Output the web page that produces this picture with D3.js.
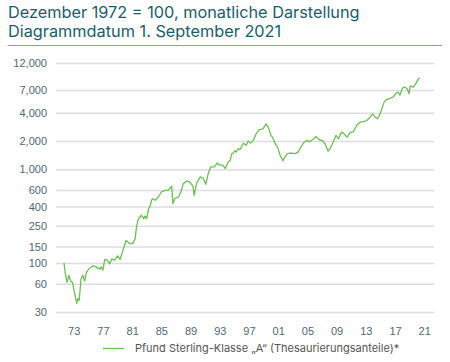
<!DOCTYPE html>
<html>
<head>
<meta charset="utf-8">
<script src="https://cdn.jsdelivr.net/npm/d3@7"></script>
<style>
  body { margin: 0; background: #fff; }
  svg { display: block; font-family: Inter, "Noto Sans", sans-serif; }
</style>
</head>
<body>
<div id="chart"></div>
<script>
// Index, December 1972 = 100
const months = [
  "1972-12", "1973-02", "1973-05", "1973-08", "1973-11", "1974-02", "1974-05", "1974-09", "1974-11",
  "1975-01", "1975-04", "1975-07", "1975-10", "1976-01", "1976-06", "1976-12", "1977-05", "1977-11",
  "1978-01", "1978-04", "1978-07", "1978-11", "1979-03", "1979-07", "1979-11", "1980-04", "1980-08",
  "1981-01", "1981-06", "1981-12", "1982-05", "1982-09", "1982-11", "1983-02", "1983-07", "1983-11",
  "1984-01", "1984-04", "1984-07", "1984-09", "1984-12", "1985-02", "1985-06", "1985-11", "1986-04",
  "1986-10", "1987-03", "1987-09", "1987-11", "1988-02", "1988-08", "1988-12", "1989-04", "1989-10",
  "1990-03", "1990-08", "1990-10", "1991-02", "1991-08", "1992-01", "1992-05", "1992-09", "1993-01",
  "1993-07", "1993-12", "1994-04", "1994-09", "1995-01", "1995-06", "1995-09", "1995-12", "1996-02",
  "1996-05", "1996-07", "1996-10", "1997-01", "1997-07", "1997-11", "1998-03", "1998-07", "1998-11",
  "1999-04", "1999-09", "2000-03", "2000-08", "2000-12", "2001-04", "2001-07", "2001-11", "2002-03",
  "2002-07", "2002-12", "2003-03", "2003-07", "2004-02", "2004-08", "2005-01", "2005-05", "2005-11",
  "2006-04", "2006-08", "2007-02", "2007-06", "2007-10", "2008-01", "2008-04", "2008-09", "2009-02",
  "2009-05", "2009-10", "2010-03", "2010-07", "2010-12", "2011-04", "2011-09", "2012-02", "2012-08",
  "2013-01", "2013-07", "2013-12", "2014-06", "2014-11", "2015-03", "2015-07", "2015-11", "2016-03",
  "2016-10", "2017-02", "2017-08", "2018-01", "2018-05", "2018-09", "2018-12", "2019-04", "2019-08",
  "2019-12", "2020-03", "2020-05", "2020-10", "2021-02", "2021-06", "2021-09"
];
const values = [
  100, 78, 62, 74, 64, 62, 49, 37, 42,
  40, 68, 74, 64, 80, 88, 93, 91, 86,
  91, 84, 109, 107, 98, 111, 107, 119, 109,
  137, 174, 161, 161, 182, 240, 292, 323, 297,
  318, 297, 380, 396, 470, 485, 467, 506, 572,
  596, 596, 658, 430, 485, 506, 572, 703, 750,
  730, 658, 525, 714, 828, 795, 690, 899, 1059,
  1059, 1166, 1105, 1105, 1018, 1195, 1250, 1470, 1490,
  1580, 1530, 1650, 1620, 1900, 1800, 2000, 1900, 2030,
  2400, 2650, 2700, 3050, 2780, 2300, 2170, 1880, 1720,
  1420, 1230, 1350, 1470, 1490, 1470, 1530, 1720, 1960,
  2030, 1960, 2110, 2240, 2110, 2030, 2050, 1860, 1560,
  1650, 1920, 2300, 2110, 2490, 2400, 2200, 2450, 2540,
  2950, 3200, 3200, 3330, 3600, 3900, 3600, 3460, 3820,
  5200, 5550, 5700, 5900, 6400, 6670, 6160, 7340, 7530,
  7230, 6400, 7750, 7530, 8200, 9100, 9500
];

// axis ticks; the top gridline of the source sits a little above 12,000
const yTickValues = [30, 60, 100, 150, 250, 400, 600, 1000, 2000, 4000, 7000, 13600];
const yTickLabels = ["30", "60", "100", "150", "250", "400", "600", "1,000", "2,000", "4,000", "7,000", "12,000"];
const xTickYears = [1973, 1977, 1981, 1985, 1989, 1993, 1997, 2001, 2005, 2009, 2013, 2017, 2021];

const titleLines = ["Dezember 1972 = 100, monatliche Darstellung", "Diagrammdatum 1. September 2021"];
const seriesName = "Pfund Sterling-Klasse \u201EA\u201C (Thesaurierungsanteile)*";

const width = 450, height = 362;
const green = "#6cbf55";
const textColor = "#506874";

const parse = d3.timeParse("%Y-%m");
const data = months.map((m, i) => ({ date: parse(m), value: values[i] }));

const svg = d3.select("#chart").append("svg")
  .attr("width", width)
  .attr("height", height);

// title
svg.append("g")
  .selectAll("text")
  .data(titleLines)
  .join("text")
  .attr("x", 8)
  .attr("y", (d, i) => 18 + i * 19)
  .attr("fill", "#1c5d6c")
  .style("font-size", "16.3px")
  .text((d) => d);

// thin green rule under the title
svg.append("line")
  .attr("x1", 8).attr("x2", 442)
  .attr("y1", 45.5).attr("y2", 45.5)
  .attr("stroke", green)
  .attr("stroke-width", 1);

const x = d3.scaleTime()
  .domain(d3.extent(data, (d) => d.date))
  .range([64, 420]);

const y = d3.scaleLog()
  .domain([30, 13600])
  .range([312, 63]);

// gridlines + y labels
const yAxis = svg.append("g")
  .attr("transform", "translate(56,0)")
  .call(d3.axisLeft(y)
    .tickValues(yTickValues)
    .tickFormat((d, i) => yTickLabels[i])
    .tickSize(-378)
    .tickPadding(9));
yAxis.select(".domain").remove();
yAxis.selectAll(".tick line")
  .attr("stroke", "#dcdce2")
  .attr("stroke-width", 1.5);
yAxis.selectAll(".tick text")
  .attr("fill", textColor)
  .style("font-size", "11px");

// x labels (placed under the middle of each labelled year's span)
const xAxis = svg.append("g")
  .attr("transform", "translate(0,320)")
  .call(d3.axisBottom(x)
    .tickValues(xTickYears.map((yr) => new Date(yr + 1, 3, 1)))
    .tickFormat((d) => d3.format("02d")((d.getFullYear() - 1) % 100))
    .tickSize(0)
    .tickPadding(7));
xAxis.select(".domain").remove();
xAxis.selectAll(".tick text")
  .attr("fill", textColor)
  .style("font-size", "11px");

// line
const line = d3.line()
  .x((d) => x(d.date))
  .y((d) => y(d.value));

svg.append("path")
  .datum(data)
  .attr("fill", "none")
  .attr("stroke", green)
  .attr("stroke-width", 1.3)
  .attr("stroke-linejoin", "round")
  .attr("d", line);

// legend
const legend = svg.append("g").attr("transform", "translate(103,348.5)");
legend.append("line")
  .attr("x1", 0).attr("x2", 21)
  .attr("stroke", green)
  .attr("stroke-width", 1.3);
legend.append("text")
  .attr("x", 32)
  .attr("dy", "0.35em")
  .attr("fill", "#555")
  .style("font-size", "11px")
  .text(seriesName);
</script>
</body>
</html>
